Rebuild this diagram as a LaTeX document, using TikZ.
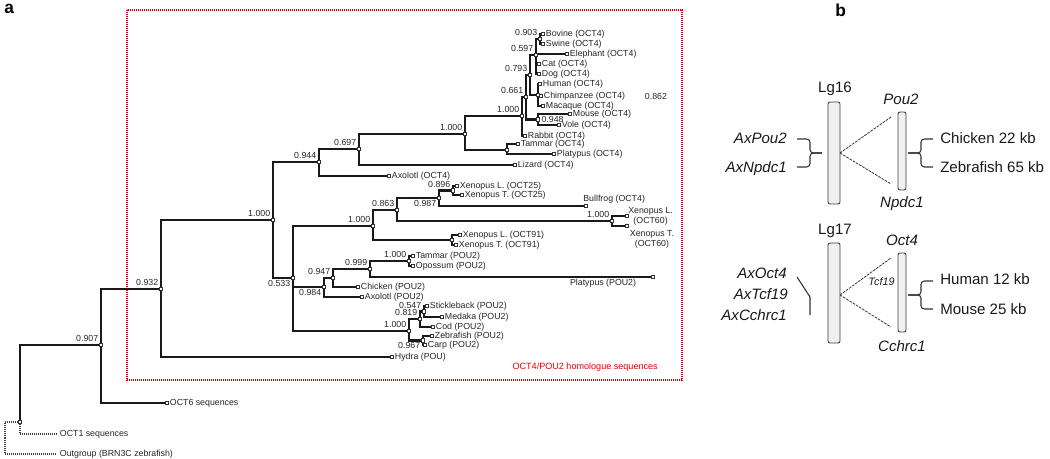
\documentclass[tikz,border=0pt]{standalone}
\usepackage{fontspec}
\setmainfont{Liberation Sans}
\usetikzlibrary{calc}
\begin{document}
\begin{tikzpicture}[x=0.75pt,y=-0.75pt,
  br/.style={line width=1.8pt, draw=black!90},
  dbr/.style={line width=1.7pt, draw=black!75, dash pattern=on 0.75pt off 0.75pt},
  mk/.style={draw=black!80, fill=white, rectangle, minimum size=2.6pt, inner sep=0pt, line width=0.4pt},
  lf/.style={anchor=west, inner sep=0pt, font=\fontsize{6.6}{7.6}\selectfont, text=black!85},
  sv/.style={inner sep=0pt, font=\fontsize{6.6}{7.6}\selectfont, text=black!85},
  redbox/.style={draw=red!85!black, line width=2pt, dash pattern=on 0.8pt off 0.7pt},
  bt/.style={inner sep=0pt, font=\fontsize{11.3}{13}\selectfont, text=black!90},
  chrom/.style={draw=black!75, fill=black!6, rounded corners=1.5pt, line width=0.7pt, inner sep=0pt},
  dl/.style={line width=0.6pt, draw=black!80, dash pattern=on 2pt off 0.8pt},
  brc/.style={line width=0.8pt, draw=black!80, rounded corners=2.5pt},
  plab/.style={inner sep=0pt, font=\fontsize{13}{13}\selectfont\bfseries, anchor=north west}
]
\useasboundingbox (0,0) rectangle (1050,459);

% ---------------- panel a : coordinates ----------------
\coordinate (root) at (5,438);
\coordinate (n1) at (20,422);
\coordinate (OCTone) at (57,434);
\coordinate (Outg) at (57,454);
\coordinate (n0907) at (101,345);
\coordinate (OCTsix) at (167,403);
\coordinate (n0932) at (161,289);
\coordinate (Hydra) at (392,357);
\coordinate (nA) at (273,220);
\coordinate (n0944) at (319,162);
\coordinate (AxolotlO) at (389,176);
\coordinate (n0697) at (359,149);
\coordinate (Lizard) at (515,165);
\coordinate (nMam) at (465,134);
\coordinate (nTP) at (507,150);
\coordinate (TammarO) at (518,144);
\coordinate (PlatypusO) at (554,154);
\coordinate (nPla) at (522,116);
\coordinate (Rabbit) at (525,136);
\coordinate (n0661) at (526,97);
\coordinate (n0948) at (538,119.5);
\coordinate (Mouse) at (570,114);
\coordinate (Vole) at (559,125);
\coordinate (n0793) at (530,75);
\coordinate (nPri) at (538,95);
\coordinate (Human) at (540,84);
\coordinate (Chimp) at (541,96);
\coordinate (Macaque) at (543,106);
\coordinate (n0597) at (536,55);
\coordinate (Elephant) at (567,54);
\coordinate (Cat) at (539,64);
\coordinate (Dog) at (539,74);
\coordinate (n0903) at (540,39);
\coordinate (Bovine) at (543,34);
\coordinate (Swine) at (543,44);
\coordinate (n0533) at (293,278);
\coordinate (nX) at (373,226);
\coordinate (nXnine) at (452,240);
\coordinate (XenLnine) at (460,235);
\coordinate (XenTnine) at (456,245);
\coordinate (n0863) at (397,210);
\coordinate (nXsix) at (612,221);
\coordinate (XenLsix) at (627,216);
\coordinate (XenTsix) at (627,226);
\coordinate (n0987) at (439,198);
\coordinate (Bullfrog) at (586,206);
\coordinate (n0896) at (453,190.5);
\coordinate (XenLtw) at (457,186);
\coordinate (XenTtw) at (462,195);
\coordinate (n0984) at (324,287);
\coordinate (AxolotlP) at (362,297);
\coordinate (n0947) at (333,278);
\coordinate (Chicken) at (358,287);
\coordinate (n0999) at (370,269);
\coordinate (PlatypusP) at (653,277);
\coordinate (nTO) at (409,261);
\coordinate (TammarP) at (413,256);
\coordinate (Opossum) at (413,266);
\coordinate (nF) at (409,331);
\coordinate (n0819) at (420,319);
\coordinate (n0547) at (424,311.5);
\coordinate (Stickleback) at (427,306);
\coordinate (Medaka) at (442,317);
\coordinate (Cod) at (433,327);
\coordinate (n0967) at (423,340.5);
\coordinate (Zebrafish) at (432,336);
\coordinate (Carp) at (425,345);

% red box
\draw[redbox] (127,10) rectangle (682,380);

% ---------------- edges ----------------
\draw[dbr] (root) |- (n1) (root) |- (Outg) (n1) |- (OCTone);
\draw[br] (n1) |- (n0907);
\draw[br] (n0907) |- (n0932) (n0907) |- (OCTsix);
\draw[br] (n0932) |- (nA) (n0932) |- (Hydra);
\draw[br] (nA) |- (n0944) (nA) |- (n0533);
\draw[br] (n0944) |- (n0697) (n0944) |- (AxolotlO);
\draw[br] (n0697) |- (nMam) (n0697) |- (Lizard);
\draw[br] (nMam) |- (nPla) (nMam) |- (nTP);
\draw[br] (nTP) |- (TammarO) (nTP) |- (PlatypusO);
\draw[br] (nPla) |- (n0661) (nPla) |- (Rabbit);
\draw[br] (n0661) |- (n0793) (n0661) |- (n0948);
\draw[br] (n0948) |- (Mouse) (n0948) |- (Vole);
\draw[br] (n0793) |- (n0597) (n0793) |- (nPri);
\draw[br] (nPri) |- (Human) (nPri) |- (Chimp) (nPri) |- (Macaque);
\draw[br] (n0597) |- (n0903) (n0597) |- (Elephant) (n0597) |- (Cat) (n0597) |- (Dog);
\draw[br] (n0903) |- (Bovine) (n0903) |- (Swine);
\draw[br] (n0533) |- (nX) (n0533) |- (n0984) (n0533) |- (nF);
\draw[br] (nX) |- (n0863) (nX) |- (nXnine);
\draw[br] (nXnine) |- (XenLnine) (nXnine) |- (XenTnine);
\draw[br] (n0863) |- (n0987) (n0863) |- (nXsix);
\draw[br] (nXsix) |- (XenLsix) (nXsix) |- (XenTsix);
\draw[br] (n0987) |- (n0896) (n0987) |- (Bullfrog);
\draw[br] (n0896) |- (XenLtw) (n0896) |- (XenTtw);
\draw[br] (n0984) |- (n0947) (n0984) |- (AxolotlP);
\draw[br] (n0947) |- (n0999) (n0947) |- (Chicken);
\draw[br] (n0999) |- (nTO) (n0999) |- (PlatypusP);
\draw[br] (nTO) |- (TammarP) (nTO) |- (Opossum);
\draw[br] (nF) |- (n0819) (nF) |- (n0967);
\draw[br] (n0819) |- (n0547) (n0819) |- (Cod);
\draw[br] (n0547) |- (Stickleback) (n0547) |- (Medaka);
\draw[br] (n0967) |- (Zebrafish) (n0967) |- (Carp);

% ---------------- markers ----------------
\foreach \n in {n1,n0907,OCTsix,n0932,Hydra,nA,n0944,AxolotlO,n0697,Lizard,nMam,nTP,TammarO,PlatypusO,nPla,Rabbit,n0661,n0948,Mouse,Vole,n0793,nPri,Human,Chimp,Macaque,n0597,Elephant,Cat,Dog,n0903,Bovine,Swine,n0533,nX,nXnine,XenLnine,XenTnine,n0863,nXsix,XenLsix,XenTsix,n0987,Bullfrog,n0896,XenLtw,XenTtw,n0984,AxolotlP,n0947,Chicken,n0999,PlatypusP,nTO,TammarP,Opossum,nF,n0819,n0547,Stickleback,Medaka,Cod,n0967,Zebrafish,Carp}
  \node[mk] (m\n) at (\n) {};

% ---------------- leaf labels ----------------
\foreach \n/\t in {Bovine/Bovine (OCT4),Swine/Swine (OCT4),Elephant/Elephant (OCT4),Cat/Cat (OCT4),Dog/Dog (OCT4),Human/Human (OCT4),Chimp/Chimpanzee (OCT4),Macaque/Macaque (OCT4),Mouse/Mouse (OCT4),Vole/Vole (OCT4),Rabbit/Rabbit (OCT4),TammarO/Tammar (OCT4),PlatypusO/Platypus (OCT4),Lizard/Lizard (OCT4),AxolotlO/Axolotl (OCT4),XenLtw/Xenopus L. (OCT25),XenTtw/Xenopus T. (OCT25),XenLnine/Xenopus L. (OCT91),XenTnine/Xenopus T. (OCT91),TammarP/Tammar (POU2),Opossum/Opossum (POU2),Chicken/Chicken (POU2),AxolotlP/Axolotl (POU2),Stickleback/Stickleback (POU2),Medaka/Medaka (POU2),Cod/Cod (POU2),Zebrafish/Zebrafish (POU2),Carp/Carp (POU2),Hydra/Hydra (POU),OCTsix/OCT6 sequences,OCTone/OCT1 sequences,Outg/Outgroup (BRN3C zebrafish)}
  \node[lf] (t\n) at ([xshift=2pt]\n) {\t};
\node[lf, anchor=south west] (tBullfrog) at ([xshift=-2.2pt,yshift=1.8pt]Bullfrog) {Bullfrog (OCT4)};
\node[lf, align=center] (tXenLsix) at ([xshift=0.8pt]XenLsix) {Xenopus L.\\(OCT60)};
\node[lf, anchor=north west, align=center] (tXenTsix) at ([xshift=2pt,yshift=-3pt]XenTsix) {Xenopus T.\\(OCT60)};
\node[lf, anchor=north east] (tPlatypusP) at ([xshift=-12.5pt,yshift=-1.6pt]PlatypusP) {Platypus (POU2)};

% ---------------- support values ----------------
\foreach \n/\v in {n0907/0.907,n0932/0.932,nA/1.000,n0944/0.944,n0697/0.697,nMam/1.000,nPla/1.000,n0661/0.661,n0793/0.793,n0597/0.597,n0903/0.903,nX/1.000,n0863/0.863,n0896/0.896,nXsix/1.000,nTO/1.000,n0999/0.999,n0947/0.947,nF/1.000,n0819/0.819,n0547/0.547}
  \node[sv, anchor=base east] (s\n) at ([xshift=-1.9pt,yshift=2.6pt]\n) {\v};
\foreach \n/\v in {n0987/0.987,n0533/0.533,n0984/0.984,n0967/0.967}
  \node[sv, anchor=north east] (s\n) at ([xshift=-1.9pt,yshift=-1.5pt]\n) {\v};
\node[sv, anchor=west] (sn0948) at ([xshift=2.5pt]n0948) {0.948};
\node[sv] (float862) at (656,96) {0.862};
\node[inner sep=0pt, anchor=east, text=red!90!black, font=\fontsize{6.8}{8}\selectfont] (redlab) at (658,367) {OCT4/POU2 homologue sequences};

% ---------------- panel labels ----------------
\node[plab] (pa) at (4,4) {a};
\node[plab] (pb) at (835,4) {b};

% ---------------- panel b ----------------
\node[chrom, minimum width=9pt, minimum height=76.5pt] (lg16) at (834,153) {};
\node[chrom, minimum width=6pt, minimum height=58.5pt] (sm16) at (902,151) {};
\node[chrom, minimum width=9pt, minimum height=75pt] (lg17) at (834,293) {};
\node[chrom, minimum width=6pt, minimum height=59.25pt] (sm17) at (902,292.5) {};

\coordinate (a16) at (840,153);
\coordinate (p16t) at (891,117);
\coordinate (p16b) at (891,184);
\coordinate (a17) at (840,295);
\coordinate (p17t) at (891,258);
\coordinate (p17b) at (891,327);
\draw[dl] (a16) -- (p16t) (a16) -- (p16b);
\draw[dl] (a17) -- (p17t) (a17) -- (p17b);

\node[bt, anchor=base] (lg16t) at (835,93) {Lg16};
\node[bt, anchor=base] (pou2t) at (901,105) {\itshape Pou2};
\node[bt, anchor=base] (npdct) at (902,208) {\itshape Npdc1};
\node[bt, anchor=base east] (axpou) at (787,144) {\itshape AxPou2};
\node[bt, anchor=base east] (axnp) at (787,172.7) {\itshape AxNpdc1};
\node[bt, anchor=base west] (chk) at (940,144) {Chicken 22 kb};
\node[bt, anchor=base west] (zf) at (940,172.7) {Zebrafish 65 kb};

\node[bt, anchor=base] (lg17t) at (835,235) {Lg17};
\node[bt, anchor=base] (oct4t) at (902,245.7) {\itshape Oct4};
\node[bt, anchor=base] (cchrt) at (902,351.7) {\itshape Cchrc1};
\node[bt, anchor=base east] (axoct) at (787,278.3) {\itshape AxOct4};
\node[bt, anchor=base east] (axtcf) at (788,300) {\itshape AxTcf19};
\node[bt, anchor=base east] (axcch) at (787,321) {\itshape AxCchrc1};
\node[bt, anchor=base west] (hum) at (940,285) {Human 12 kb};
\node[bt, anchor=base west] (mou) at (940,314.3) {Mouse 25 kb};
\node[inner sep=0pt, anchor=base, font=\fontsize{8.1}{9}\selectfont\itshape, text=black!90] (tcf) at (881.5,286) {Tcf19};

% braces
\draw[brc] (797,139) -| (810,153) -- (822,153);
\draw[brc] (797,167) -| (810,153) -- (822,153);
\draw[brc] (933,139) -| (921,153) -- (908,153);
\draw[brc] (933,167) -| (921,153) -- (908,153);
\draw[brc] (933,281) -| (921,295) -- (908,295);
\draw[brc] (933,309) -| (921,295) -- (908,295);
\draw[line width=0.8pt, draw=black!80] (797,277) -- (810,297) -- (810,315);
\end{tikzpicture}
\end{document}
